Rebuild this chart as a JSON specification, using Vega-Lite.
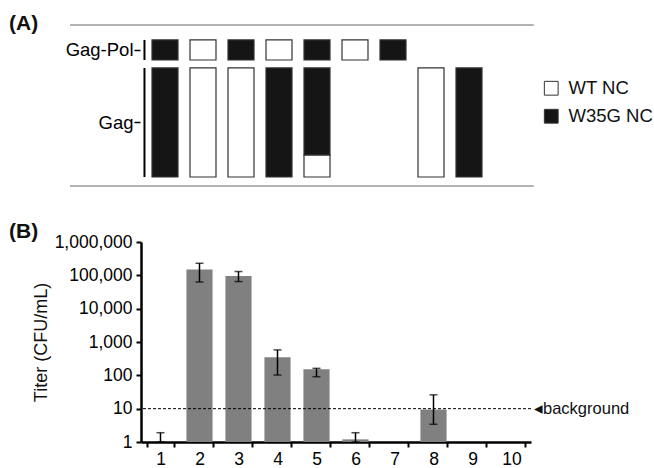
{
  "$schema": "https://vega.github.io/schema/vega-lite/v6.json",
  "padding": {"left": 9, "top": 13, "right": 2, "bottom": 5},
  "spacing": 33,
  "config": {
    "view": {"stroke": null},
    "font": "Liberation Sans",
    "axis": {"labelColor": "#000", "titleColor": "#111", "domainColor": "#000", "tickColor": "#000", "grid": false}
  },
  "datasets": {
    "gagpol": [
      {"lane": 1, "variant": "W35G NC"},
      {"lane": 2, "variant": "WT NC"},
      {"lane": 3, "variant": "W35G NC"},
      {"lane": 4, "variant": "WT NC"},
      {"lane": 5, "variant": "W35G NC"},
      {"lane": 6, "variant": "WT NC"},
      {"lane": 7, "variant": "W35G NC"}
    ],
    "gag": [
      {"lane": 1, "variant": "W35G NC", "share": 1},
      {"lane": 2, "variant": "WT NC", "share": 1},
      {"lane": 3, "variant": "WT NC", "share": 1},
      {"lane": 4, "variant": "W35G NC", "share": 1},
      {"lane": 5, "variant": "W35G NC", "share": 0.8},
      {"lane": 5, "variant": "WT NC", "share": 0.2},
      {"lane": 8, "variant": "WT NC", "share": 1},
      {"lane": 9, "variant": "W35G NC", "share": 1}
    ],
    "titer": [
      {"lane": 1, "titer": 1, "lo": 1, "hi": 1.9},
      {"lane": 2, "titer": 150000, "lo": 63000, "hi": 230000},
      {"lane": 3, "titer": 95000, "lo": 65000, "hi": 130000},
      {"lane": 4, "titer": 350, "lo": 102, "hi": 580},
      {"lane": 5, "titer": 153, "lo": 91, "hi": 162},
      {"lane": 6, "titer": 1.2, "lo": 1, "hi": 1.9},
      {"lane": 7, "titer": 1, "lo": null, "hi": null},
      {"lane": 8, "titer": 9.4, "lo": 3.4, "hi": 26},
      {"lane": 9, "titer": 1, "lo": null, "hi": null},
      {"lane": 10, "titer": 1, "lo": null, "hi": null}
    ],
    "one": [{}]
  },
  "resolve": {"legend": {"color": "independent"}},
  "vconcat": [
    {
      "width": 390,
      "height": 161,
      "title": {"text": "(A)", "anchor": "start", "frame": "group", "fontSize": 21, "fontWeight": "bold", "dx": -132, "offset": -21, "baseline": "middle", "color": "#111"},
      "layer": [
        {
          "data": {"name": "one"},
          "mark": {"type": "rule", "stroke": "#9a9a9a", "strokeWidth": 1.5},
          "encoding": {
            "x": {"datum": -1.5, "type": "quantitative", "scale": {"domain": [0.5, 10.5], "nice": false, "zero": false}, "axis": null},
            "x2": {"datum": 10.705},
            "y": {"datum": 1.394, "type": "quantitative", "scale": {"domain": [-0.0826, 1.394], "nice": false, "zero": false}}
          }
        },
        {
          "data": {"name": "one"},
          "mark": {"type": "rule", "stroke": "#9a9a9a", "strokeWidth": 1.5},
          "encoding": {
            "x": {"datum": -1.5, "type": "quantitative"},
            "x2": {"datum": 10.705},
            "y": {"datum": -0.0826, "type": "quantitative"}
          }
        },
        {
          "data": {"name": "one"},
          "mark": {"type": "rule", "stroke": "#000", "strokeWidth": 2},
          "encoding": {
            "x": {"datum": 0.46, "type": "quantitative"},
            "y": {"datum": 1.073, "type": "quantitative"},
            "y2": {"datum": 1.257}
          }
        },
        {
          "data": {"name": "one"},
          "mark": {"type": "rule", "stroke": "#000", "strokeWidth": 2},
          "encoding": {
            "x": {"datum": 0.46, "type": "quantitative"},
            "y": {"datum": 0, "type": "quantitative"},
            "y2": {"datum": 1}
          }
        },
        {
          "data": {"name": "gagpol"},
          "mark": {"type": "bar", "size": 26, "stroke": "#333", "strokeWidth": 1.2},
          "encoding": {
            "x": {"field": "lane", "type": "quantitative"},
            "y": {"datum": 1.073, "type": "quantitative"},
            "y2": {"datum": 1.257},
            "color": {"field": "variant", "type": "nominal", "scale": {"domain": ["WT NC", "W35G NC"], "range": ["#ffffff", "#151515"]}}
          }
        },
        {
          "data": {"name": "gag"},
          "mark": {"type": "bar", "size": 26, "stroke": "#333", "strokeWidth": 1.2},
          "encoding": {
            "x": {"field": "lane", "type": "quantitative"},
            "y": {"field": "share", "type": "quantitative", "stack": "zero",
              "axis": {"values": [0.5, 1.165], "labelExpr": "datum.value > 1 ? 'Gag-Pol' : 'Gag'", "domain": false, "tickSize": 6, "tickWidth": 1.5, "labelFontSize": 18.5, "labelPadding": 1, "title": null, "offset": 1}},
            "order": {"field": "variant", "sort": "descending"},
            "color": {"field": "variant", "type": "nominal",
              "legend": {"orient": "none", "legendX": 401, "legendY": 54, "title": null, "symbolType": "square", "symbolSize": 190, "symbolStrokeColor": "#666", "symbolStrokeWidth": 1, "labelFontSize": 18.5, "labelColor": "#111", "rowPadding": 9, "labelOffset": 8, "padding": 0}}
          }
        }
      ]
    },
    {
      "width": 390,
      "height": 200,
      "title": {"text": "(B)", "anchor": "start", "frame": "group", "fontSize": 21, "fontWeight": "bold", "dx": -132, "offset": -19.5, "baseline": "middle", "color": "#111"},
      "data": {"name": "titer"},
      "encoding": {
        "x": {"field": "lane", "type": "ordinal",
          "scale": {"paddingInner": 0.33, "paddingOuter": 0.165},
          "axis": {"title": null, "labelAngle": 0, "labelFontSize": 17.5, "tickBand": "extent", "tickSize": 5, "tickWidth": 2, "domainWidth": 2.5, "labelPadding": 3}}
      },
      "layer": [
        {
          "mark": {"type": "bar", "color": "#808080"},
          "encoding": {
            "y": {"field": "titer", "type": "quantitative",
              "scale": {"type": "log", "domain": [1, 1000000], "nice": false},
              "axis": {"title": "Titer (CFU/mL)", "titleFontSize": 18, "titleFontWeight": "normal", "titlePadding": 4, "values": [1, 10, 100, 1000, 10000, 100000, 1000000], "format": ",", "labelFontSize": 17.5, "tickSize": 5, "tickWidth": 2, "domainWidth": 2.5, "labelPadding": 4}},
            "y2": {"datum": 1}
          }
        },
        {
          "transform": [{"filter": "isValid(datum.hi)"}],
          "mark": {"type": "rule", "color": "#000", "strokeWidth": 1.5},
          "encoding": {
            "y": {"field": "lo", "type": "quantitative"},
            "y2": {"field": "hi"}
          }
        },
        {
          "transform": [{"filter": "isValid(datum.hi)"}],
          "mark": {"type": "tick", "color": "#000", "size": 8, "thickness": 1.5},
          "encoding": {"y": {"field": "hi", "type": "quantitative"}}
        },
        {
          "transform": [{"filter": "isValid(datum.hi)"}],
          "mark": {"type": "tick", "color": "#000", "size": 8, "thickness": 1.5},
          "encoding": {"y": {"field": "lo", "type": "quantitative"}}
        },
        {
          "data": {"values": [{"level": 10, "label": "◂background"}]},
          "mark": {"type": "rule", "color": "#000", "strokeWidth": 1, "strokeDash": [3, 2]},
          "encoding": {"x": null, "y": {"field": "level", "type": "quantitative"}}
        },
        {
          "data": {"values": [{"level": 10, "label": "◂background"}]},
          "mark": {"type": "text", "align": "left", "baseline": "middle", "dx": 3, "fontSize": 16.5, "color": "#111"},
          "encoding": {"x": {"value": "width"}, "y": {"field": "level", "type": "quantitative"}, "text": {"field": "label"}}
        }
      ]
    }
  ]
}
